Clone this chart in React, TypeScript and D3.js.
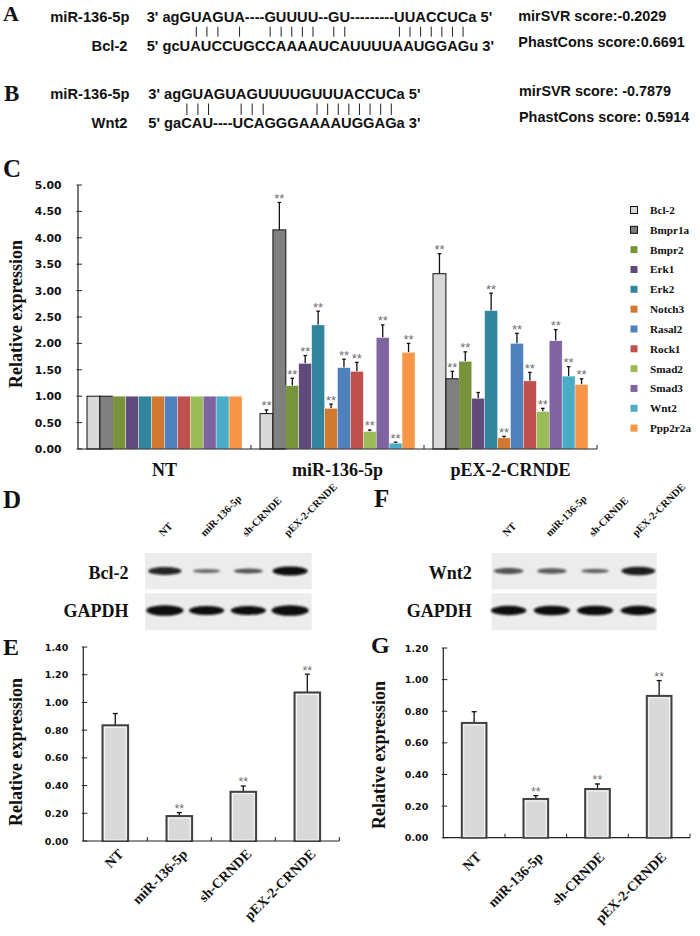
import React, { useMemo } from 'react';
import * as d3 from 'd3';

// ---------- Panel A / B sequences ----------
const mirLabel = 'miR-136-5p';
const seqA_top = "3' agGUAGUA----GUUUU--GU---------UUACCUCa 5'";
const seqA_bot = "5' gcUAUCCUGCCAAAAUCAUUUUAAUGGAGu 3'";
const pairsA = [6, 7, 8, 10, 15, 16, 17, 18, 19, 22, 23, 33, 34, 35, 36, 37, 38, 39];
const seqB_top = "3' agGUAGUAGUUUUGUUUACCUCa 5'";
const seqB_bot = "5' gaCAU----UCAGGGAAAAUGGAGa 3'";
const pairsB = [5, 6, 7, 10, 11, 12, 17, 18, 19, 20, 21, 22, 23, 24];
const scoresA = ['mirSVR score:-0.2029', 'PhastCons score:0.6691'];
const scoresB = ['mirSVR score: -0.7879', 'PhastCons score: 0.5914'];

// ---------- Panel C ----------
const genes = ['Bcl-2', 'Bmpr1a', 'Bmpr2', 'Erk1', 'Erk2', 'Notch3', 'Rasal2', 'Rock1', 'Smad2', 'Smad3', 'Wnt2', 'Ppp2r2a'];
const geneColors = ['#d9d9d9', '#808080', '#77933c', '#604a7b', '#31859c', '#d0792f', '#4f81bd', '#c0504d', '#9bbb59', '#8064a2', '#4bacc6', '#f79646'];
const groupsC = ['NT', 'miR-136-5p', 'pEX-2-CRNDE'];
const valNT = [1, 1, 1, 1, 1, 1, 1, 1, 1, 1, 1, 1];
const errNT = [0, 0, 0, 0, 0, 0, 0, 0, 0, 0, 0, 0];
const sigNT = [0, 0, 0, 0, 0, 0, 0, 0, 0, 0, 0, 0];
const valMiR = [0.67, 4.15, 1.2, 1.62, 2.35, 0.77, 1.54, 1.47, 0.33, 2.11, 0.11, 1.83];
const errMiR = [0.07, 0.52, 0.14, 0.15, 0.26, 0.08, 0.16, 0.17, 0.03, 0.24, 0.02, 0.17];
const sigMiR = [1, 1, 1, 1, 1, 1, 1, 1, 1, 1, 1, 1];
const valPEX = [3.32, 1.33, 1.66, 0.96, 2.62, 0.21, 2.0, 1.29, 0.71, 2.05, 1.38, 1.22];
const errPEX = [0.38, 0.14, 0.18, 0.11, 0.33, 0.03, 0.19, 0.16, 0.06, 0.21, 0.18, 0.11];
const sigPEX = [1, 1, 1, 0, 1, 1, 1, 1, 1, 1, 1, 1];
const yTicksC = [0, 0.5, 1, 1.5, 2, 2.5, 3, 3.5, 4, 4.5, 5];

// ---------- Panels D-G ----------
const lanes = ['NT', 'miR-136-5p', 'sh-CRNDE', 'pEX-2-CRNDE'];
const bandBcl2 = [0.85, 0.3, 0.45, 1.0];
const bandGapdhD = [1.2, 1.0, 1.0, 1.2];
const bandWnt2 = [0.55, 0.5, 0.35, 0.9];
const bandGapdhF = [1.05, 1.1, 1.1, 1.05];
const valE = [0.835, 0.18, 0.355, 1.072];
const errE = [0.085, 0.025, 0.042, 0.132];
const sigE = [0, 1, 1, 1];
const yTicksE = [0, 0.2, 0.4, 0.6, 0.8, 1.0, 1.2, 1.4];
const valG = [0.726, 0.245, 0.308, 0.897];
const errG = [0.071, 0.021, 0.032, 0.097];
const sigG = [0, 1, 1, 1];
const yTicksG = [0, 0.2, 0.4, 0.6, 0.8, 1.0, 1.2];

const SERIF = "'Liberation Serif', 'Times New Roman', serif";
const SANS = "'Liberation Sans', Arial, sans-serif";
const TICKF = "'DejaVu Sans', Verdana, sans-serif";
const STAR = '#707070';

function usePipes(top: string, pairs: number[], x0: number, fontSize: number) {
  return useMemo(() => {
    const ctx = document.createElement('canvas').getContext('2d')!;
    ctx.font = `bold ${fontSize}px 'Liberation Sans', Arial, sans-serif`;
    return pairs.map((i) => x0 + ctx.measureText(top.slice(0, i)).width + ctx.measureText(top[i]).width / 2);
  }, [top, pairs, x0, fontSize]);
}

function Duplex(props: { top: string; bot: string; pairs: number[]; label: string; x0: number; y1: number; y2: number; py1: number; py2: number }) {
  const fs = 14.7;
  const xs = usePipes(props.top, props.pairs, props.x0, fs);
  return (
    <g fontFamily={SANS} fontWeight="bold" fontSize={fs} fill="#111">
      <text x={129.5} y={props.y1} textAnchor="end">{mirLabel}</text>
      <text x={props.x0} y={props.y1}>{props.top}</text>
      {xs.map((x, i) => (
        <line key={i} x1={x} x2={x} y1={props.py1} y2={props.py2} stroke="#222" strokeWidth={1} />
      ))}
      <text x={127.5} y={props.y2} textAnchor="end">{props.label}</text>
      <text x={props.x0} y={props.y2}>{props.bot}</text>
    </g>
  );
}

function Blot(props: { x0: number; x1: number; laneRange: [number, number]; label: string; bands: number[]; gapdh: number[]; labelX: number }) {
  const xl = d3.scaleBand<string>().domain(lanes).range(props.laneRange);
  const boxes = [
    { y: 553, h: 36.5, cy: 571, b: props.bands, name: props.label, ty: 579 },
    { y: 593.5, h: 36.5, cy: 610.5, b: props.gapdh, name: 'GAPDH', ty: 617 },
  ];
  return (
    <g>
      {lanes.map((l) => {
        const cx = xl(l)! + xl.bandwidth() / 2;
        return (
          <text key={l} transform={`translate(${cx - 2},537) rotate(-45)`} fontFamily={SERIF} fontWeight="bold" fontSize={10.5} fill="#111">{l}</text>
        );
      })}
      {boxes.map((bx, k) => (
        <g key={k}>
          <rect x={props.x0} y={bx.y} width={props.x1 - props.x0} height={bx.h} fill="#ececec" />
          <text x={props.labelX} y={bx.ty} textAnchor="end" fontFamily={SERIF} fontWeight="bold" fontSize={18} fill="#111">{bx.name}</text>
          <g filter="url(#blotBlur)">
            {lanes.map((l, i) => {
              const s = bx.b[i];
              const cx = xl(l)! + xl.bandwidth() / 2;
              return (
                <ellipse key={l} cx={cx} cy={bx.cy} rx={(24 + 11 * s) / 2} ry={(2 + 7 * s) / 2} fill="#0a0a0a" opacity={Math.min(1, 0.35 + 0.65 * s)} />
              );
            })}
          </g>
        </g>
      ))}
    </g>
  );
}

function SmallBar(props: { ax: number; ax1: number; y0: number; ytop: number; max: number; ticks: number[]; vals: number[]; errs: number[]; sig: number[]; labelCx: number; labelCy: number; lx: number; ly: number }) {
  const y = d3.scaleLinear().domain([0, props.max]).range([props.y0, props.ytop]);
  const x = d3.scaleBand<string>().domain(lanes).range([props.ax, props.ax1]).paddingInner(0.6).paddingOuter(0.3);
  const step = x.step();
  return (
    <g>
      <text transform={`translate(${props.labelCx},${props.labelCy}) rotate(-90)`} textAnchor="middle" fontFamily={SERIF} fontWeight="bold" fontSize={18} fill="#111">Relative expression</text>
      {props.ticks.map((t) => (
        <g key={t}>
          <line x1={props.ax - 1.5} x2={props.ax + 4} y1={y(t)} y2={y(t)} stroke="#222" strokeWidth={1} />
          <text x={props.ax - 15} y={y(t) + 3.5} textAnchor="end" fontFamily={TICKF} fontWeight="bold" fontSize={9.5} fill="#111">{d3.format('.2f')(t)}</text>
        </g>
      ))}
      <line x1={props.ax} x2={props.ax} y1={y(props.max)} y2={props.y0} stroke="#222" strokeWidth={1.2} />
      <line x1={props.ax} x2={props.ax1} y1={props.y0} y2={props.y0} stroke="#222" strokeWidth={1.2} />
      {lanes.map((l, i) => (
        <line key={l} x1={props.ax + step * (i + 1)} x2={props.ax + step * (i + 1)} y1={props.y0} y2={props.y0 - 4} stroke="#222" strokeWidth={1} />
      ))}
      {lanes.map((l, i) => {
        const bx = x(l)!;
        const bw = x.bandwidth();
        const cx = bx + bw / 2;
        const top = y(props.vals[i]);
        const et = y(props.vals[i] + props.errs[i]);
        return (
          <g key={l}>
            <line x1={cx} x2={cx} y1={top} y2={et} stroke="#111" strokeWidth={1.3} />
            <line x1={cx - 2.5} x2={cx + 2.5} y1={et} y2={et} stroke="#111" strokeWidth={1.3} />
            <rect x={bx} y={top} width={bw} height={props.y0 - top} fill="#d9d9d9" stroke="#404040" strokeWidth={2} />
            <rect x={bx + 2} y={top + 2} width={bw - 4} height={props.y0 - top - 3} fill="none" stroke="#ffffff" strokeWidth={0.8} />
            {props.sig[i] ? (
              <text x={cx} y={et + 0.5} textAnchor="middle" fontFamily={SANS} fontSize={12.5} fill={STAR}>**</text>
            ) : null}
            <text transform={`translate(${props.lx + step * i},${props.ly}) rotate(-45)`} textAnchor="end" fontFamily={SERIF} fontWeight="bold" fontSize={14} fill="#111">{l}</text>
          </g>
        );
      })}
    </g>
  );
}

export default function App() {
  const cX0 = 78, cX1 = 597, cY0 = 449, cYtop = 185;
  const yC = d3.scaleLinear().domain([0, 5]).range([cY0, cYtop]);
  const xG = d3.scaleBand<string>().domain(groupsC).range([cX0, cX1]);
  const xGene = d3.scaleBand<string>().domain(genes).range([9, xG.bandwidth() - 9]);
  const valsC = [valNT, valMiR, valPEX];
  const errsC = [errNT, errMiR, errPEX];
  const sigsC = [sigNT, sigMiR, sigPEX];

  return (
    <svg width={700} height={936} style={{ position: 'absolute', left: 0, top: 0, background: '#fff' }}>
      <defs>
        <filter id="blotBlur" x="-30%" y="-80%" width="160%" height="260%">
          <feGaussianBlur stdDeviation={1.3} />
        </filter>
      </defs>
      <rect width={700} height={936} fill="#fff" />

      {/* Panel letters */}
      <g fontFamily={SERIF} fontWeight="bold" fill="#111">
        <text x={3} y={21} fontSize={22}>A</text>
        <text x={4} y={101} fontSize={23}>B</text>
        <text x={3} y={177} fontSize={25}>C</text>
        <text x={3} y={508} fontSize={25}>D</text>
        <text x={374} y={507} fontSize={25}>F</text>
        <text x={3} y={655} fontSize={24}>E</text>
        <text x={371} y={653} fontSize={24}>G</text>
      </g>

      {/* Panel A, B */}
      <Duplex top={seqA_top} bot={seqA_bot} pairs={pairsA} label="Bcl-2" x0={146.7} y1={22} y2={50.5} py1={26.7} py2={36.7} />
      <Duplex top={seqB_top} bot={seqB_bot} pairs={pairsB} label="Wnt2" x0={148.3} y1={98.8} y2={128} py1={103.5} py2={115} />
      <g fontFamily={SANS} fontWeight="bold" fontSize={14.4} fill="#111">
        <text x={518.3} y={20.5}>{scoresA[0]}</text>
        <text x={518.3} y={46.5}>{scoresA[1]}</text>
        <text x={519} y={95.5}>{scoresB[0]}</text>
        <text x={519} y={122}>{scoresB[1]}</text>
      </g>

      {/* Panel C */}
      <text transform="translate(22,314) rotate(-90)" textAnchor="middle" fontFamily={SERIF} fontWeight="bold" fontSize={18} fill="#111">Relative expression</text>
      {yTicksC.map((t) => (
        <g key={t}>
          <line x1={cX0 - 1.5} x2={cX0 + 4} y1={yC(t)} y2={yC(t)} stroke="#222" strokeWidth={1} />
          <text x={61.5} y={yC(t) + 4} textAnchor="end" fontFamily={TICKF} fontWeight="bold" fontSize={10.8} fill="#111">{d3.format('.2f')(t)}</text>
        </g>
      ))}
      {groupsC.map((g, gi) => {
        const gx = xG(g)!;
        return (
          <g key={g}>
            {genes.map((gene, i) => {
              const v = valsC[gi][i];
              const e = errsC[gi][i];
              const bx = gx + xGene(gene)!;
              const bw = xGene.bandwidth();
              const cx = bx + bw / 2;
              const top = yC(v);
              const et = yC(v + e);
              const outlined = i < 2;
              return (
                <g key={gene}>
                  {e > 0 ? (
                    <g>
                      <line x1={cx} x2={cx} y1={top} y2={et} stroke="#111" strokeWidth={1.3} />
                      <line x1={cx - 1.8} x2={cx + 1.8} y1={et} y2={et} stroke="#111" strokeWidth={1.3} />
                    </g>
                  ) : null}
                  <rect x={bx} y={top} width={bw} height={cY0 - top} fill={geneColors[i]}
                    stroke={outlined ? '#111' : '#ffffff'} strokeWidth={outlined ? 1 : 0.6} strokeOpacity={outlined ? 1 : 0.6} />
                  {sigsC[gi][i] ? (
                    <text x={cx} y={et + 0.5} textAnchor="middle" fontFamily={SANS} fontSize={13} fill={STAR}>**</text>
                  ) : null}
                </g>
              );
            })}
            <line x1={gx + xG.bandwidth()} x2={gx + xG.bandwidth()} y1={cY0} y2={cY0 - 4} stroke="#222" strokeWidth={1} />
            <text x={gx + xG.bandwidth() / 2} y={476} textAnchor="middle" fontFamily={SERIF} fontWeight="bold" fontSize={18} fill="#111">{g}</text>
          </g>
        );
      })}
      <line x1={cX0} x2={cX0} y1={yC(5)} y2={cY0} stroke="#222" strokeWidth={1.2} />
      <line x1={cX0} x2={cX1} y1={cY0} y2={cY0} stroke="#222" strokeWidth={1.2} />

      {/* Legend */}
      {genes.map((gene, i) => {
        const ly = 210 + i * 19.83;
        return (
          <g key={gene}>
            <rect x={630.5} y={ly - 3.5} width={7} height={7} fill={geneColors[i]} stroke={i < 2 ? '#111' : 'none'} strokeWidth={1} />
            <text x={650} y={ly + 4} fontFamily={SERIF} fontWeight="bold" fontSize={11.2} fill="#111">{gene}</text>
          </g>
        );
      })}

      {/* Blots */}
      <Blot x0={145} x1={311.7} laneRange={[144, 311]} label="Bcl-2" bands={bandBcl2} gapdh={bandGapdhD} labelX={128.5} />
      <Blot x0={491.7} x1={656.7} laneRange={[487, 660]} label="Wnt2" bands={bandWnt2} gapdh={bandGapdhF} labelX={471.7} />

      {/* Panel E */}
      <SmallBar ax={83.3} ax1={339.3} y0={841} ytop={647} max={1.4} ticks={yTicksE} vals={valE} errs={errE} sig={sigE}
        labelCx={21.5} labelCy={752} lx={83.3 + 0.3 * 64 + 12.8 + 9} ly={855} />

      {/* Panel G */}
      <SmallBar ax={443.3} ax1={690} y0={837.7} ytop={648} max={1.2} ticks={yTicksG} vals={valG} errs={errG} sig={sigG}
        labelCx={384.5} labelCy={755} lx={443.3 + 0.3 * 61.7 + 12.3 + 8} ly={858} />
    </svg>
  );
}
